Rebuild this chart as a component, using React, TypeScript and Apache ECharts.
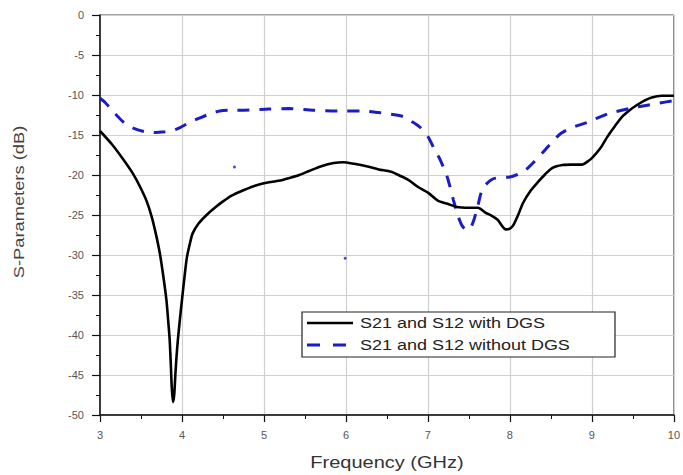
import React, { useEffect, useRef } from "react";
import * as echarts from "echarts";

const withDGS: [number, number][] = [
  [3.0, -14.5], [3.14, -16.1], [3.28, -18.0], [3.4, -19.8], [3.49, -21.5], [3.57, -23.3],
  [3.63, -25.2], [3.68, -27.3], [3.73, -29.8], [3.77, -32.5], [3.81, -35.6], [3.83, -38],
  [3.85, -40.6], [3.865, -44], [3.875, -46.5], [3.89, -48.4], [3.905, -47.5], [3.92, -44.8],
  [3.935, -42.5], [3.95, -40.6], [3.975, -38], [4.0, -35.6], [4.03, -32.8], [4.06, -30.3],
  [4.1, -28.4], [4.13, -27.3], [4.2, -26.1], [4.3, -25], [4.4, -24.1], [4.5, -23.3],
  [4.6, -22.6], [4.75, -21.9], [4.9, -21.3], [5.06, -20.9], [5.2, -20.7], [5.3, -20.4],
  [5.43, -20], [5.55, -19.5], [5.7, -18.9], [5.85, -18.5], [5.97, -18.4], [6.1, -18.6],
  [6.25, -18.9], [6.4, -19.3], [6.55, -19.6], [6.64, -20], [6.76, -20.6], [6.88, -21.5],
  [7.0, -22.2], [7.12, -23.2], [7.24, -23.6], [7.35, -24], [7.5, -24.1], [7.61, -24.1],
  [7.7, -24.7], [7.78, -25.1], [7.85, -25.6], [7.95, -26.8], [8.0, -26.7], [8.04, -26.3],
  [8.1, -25], [8.16, -23.5], [8.25, -22], [8.34, -20.9], [8.43, -19.9], [8.52, -19.1],
  [8.64, -18.75], [8.75, -18.7], [8.88, -18.7], [8.95, -18.3], [9.0, -17.9], [9.1, -16.7],
  [9.19, -15.2], [9.28, -13.9], [9.37, -12.7], [9.46, -11.9], [9.55, -11.25], [9.64, -10.7],
  [9.73, -10.3], [9.85, -10.1], [10.0, -10.1],
];

const withoutDGS: [number, number][] = [
  [3.0, -10.4], [3.06, -10.9], [3.12, -11.6], [3.2, -12.5], [3.3, -13.5], [3.42, -14.2],
  [3.55, -14.6], [3.67, -14.7], [3.79, -14.6], [3.9, -14.4], [3.97, -14.1], [4.1, -13.4],
  [4.21, -12.9], [4.33, -12.4], [4.46, -12], [4.6, -11.9], [4.76, -11.9], [5.06, -11.75],
  [5.3, -11.7], [5.6, -11.9], [5.9, -12], [6.2, -12], [6.4, -12.2], [6.55, -12.4],
  [6.7, -12.7], [6.8, -13.3], [6.9, -14], [7.0, -15.2], [7.09, -17], [7.15, -18.1],
  [7.24, -20.4], [7.31, -23.1], [7.37, -25.2], [7.42, -26.4], [7.48, -26.9], [7.53, -26.4],
  [7.57, -25.3], [7.61, -23.8], [7.65, -22.2], [7.7, -21.25], [7.79, -20.5], [7.9, -20.3],
  [8.0, -20.25], [8.1, -19.9], [8.2, -19.3], [8.3, -18.3], [8.4, -17.2], [8.46, -16.5],
  [8.55, -15.5], [8.62, -14.8], [8.75, -14.1], [8.95, -13.4], [9.21, -12.3], [9.55, -11.5],
  [9.83, -11], [10.0, -10.7],
];

const strayDots: [number, number][] = [
  [4.64, -19], [5.99, -30.4],
];

const seriesNames = ["S21 and S12 with DGS", "S21 and S12 without DGS"];
const xTitle = "Frequency (GHz)";
const yTitle = "S-Parameters (dB)";

const FONT = "'Liberation Sans', Arial, sans-serif";
const BLUE = "#1c1cc4";

export default function App() {
  const ref = useRef<HTMLDivElement>(null);
  useEffect(() => {
    if (!ref.current) return;
    const chart = echarts.init(ref.current, undefined, { renderer: "svg" });
    chart.setOption({
      animation: false,
      backgroundColor: "#fff",
      grid: {
        left: 100, right: 6, top: 15, bottom: 60,
        show: true, borderColor: "#444", borderWidth: 1, backgroundColor: "transparent",
      },
      xAxis: {
        type: "value", min: 3, max: 10, interval: 1,
        axisLine: { show: true, onZero: false, lineStyle: { color: "#111", width: 1.5 } },
        axisTick: { show: true, length: 7, lineStyle: { color: "#111", width: 1.2 } },
        minorTick: { show: true, splitNumber: 2, length: 4, lineStyle: { color: "#111", width: 1 } },
        splitLine: { show: true, lineStyle: { color: "#cfcfcf", width: 1.2 } },
        axisLabel: { color: "#555", fontSize: 11, fontFamily: FONT, margin: 14 },
      },
      yAxis: {
        type: "value", min: -50, max: 0, interval: 5,
        axisLine: { show: true, onZero: false, lineStyle: { color: "#111", width: 1.5 } },
        axisTick: { show: true, length: 8, lineStyle: { color: "#111", width: 1.2 } },
        minorTick: { show: true, splitNumber: 2, length: 4, lineStyle: { color: "#111", width: 1 } },
        splitLine: { show: true, lineStyle: { color: "#cfcfcf", width: 1.2 } },
        axisLabel: { color: "#555", fontSize: 11, fontFamily: FONT, margin: 16 },
      },
      series: [
        {
          name: seriesNames[0], type: "line", data: withDGS, showSymbol: false, symbol: "none",
          smooth: 0.25,
          lineStyle: { color: "#000", width: 2.6 }, itemStyle: { color: "#000" }, z: 3,
        },
        {
          name: seriesNames[1], type: "line", data: withoutDGS, showSymbol: false, symbol: "none",
          smooth: 0.25,
          lineStyle: { color: BLUE, width: 3, type: [12, 10] }, itemStyle: { color: BLUE }, z: 2,
        },
        {
          name: "dots", type: "scatter", data: strayDots, symbolSize: 3,
          itemStyle: { color: BLUE }, silent: true,
        },
      ],
      graphic: [
        {
          type: "text", x: 387, y: 463, scaleX: 1.25,
          style: { text: xTitle, fontSize: 16, fontFamily: FONT, fill: "#333", align: "center", verticalAlign: "middle" },
        },
        {
          type: "text", x: 19, y: 202, rotation: Math.PI / 2, scaleX: 1.22,
          style: { text: yTitle, fontSize: 15, fontFamily: FONT, fill: "#444", align: "center", verticalAlign: "middle" },
        },
        {
          type: "rect", shape: { x: 302, y: 312, width: 313, height: 45 }, z: 10,
          style: { fill: "#fff", stroke: "#222", lineWidth: 1.2 },
        },
        {
          type: "line", shape: { x1: 307, y1: 323, x2: 353, y2: 323 }, z: 11,
          style: { stroke: "#000", lineWidth: 2.6 },
        },
        {
          type: "line", shape: { x1: 307, y1: 345, x2: 353, y2: 345 }, z: 11,
          style: { stroke: BLUE, lineWidth: 3, lineDash: [13, 13] },
        },
        {
          type: "text", x: 360, y: 323, scaleX: 1.2, z: 11,
          style: { text: seriesNames[0], fontSize: 15, fontFamily: FONT, fill: "#222", verticalAlign: "middle" },
        },
        {
          type: "text", x: 360, y: 345, scaleX: 1.2, z: 11,
          style: { text: seriesNames[1], fontSize: 15, fontFamily: FONT, fill: "#222", verticalAlign: "middle" },
        },
      ],
    });
    return () => chart.dispose();
  }, []);
  return (
    <div
      ref={ref}
      style={{ position: "fixed", left: 0, top: 0, width: 683, height: 475 }}
    />
  );
}
